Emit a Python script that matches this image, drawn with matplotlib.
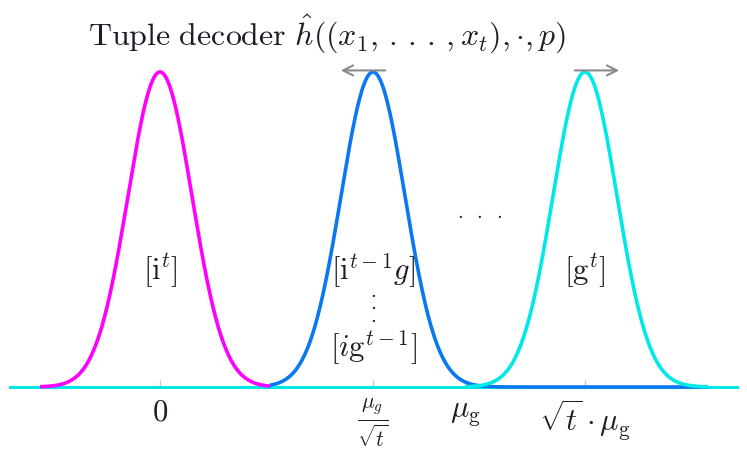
import numpy as np
import matplotlib
matplotlib.use("Agg")
import matplotlib.pyplot as plt

plt.rcParams['mathtext.fontset'] = 'cm'
plt.rcParams['font.family'] = ['DejaVu Serif']

# schematic positions (1 unit ~ 100 px)
centers = [0.0, 2.13, 4.25]
sigma = 0.32
colors = ['#ff00ff', '#0a78f0', '#00e8e8']
domains = [(-1.2, 1.1), (1.1, 5.48), (3.05, 5.48)]
curve_labels = [r'$[\mathrm{i}^t]$', r'$[\mathrm{i}^{t-1}g]$', r'$[\mathrm{g}^t]$']
tick_pos = [0.0, 2.13, 3.05, 4.25]
tick_labels = [r'$0$', r'$\frac{\mu_g}{\sqrt{t}}$', r'$\mu_\mathrm{g}$',
               r'$\sqrt{t}\cdot\mu_\mathrm{g}$']
txt = '#1c1c28'

fig = plt.figure(figsize=(7.47, 4.54), dpi=100)
ax = fig.add_axes([0, 0, 1, 1])
ax.set_xlim(-1.60, 5.87)
ax.set_ylim(-0.2127, 1.2286)

for c, col, (a, b) in zip(centers, colors, domains):
    x = np.linspace(a, b, 600)
    y = np.exp(-(x - c) ** 2 / (2 * sigma ** 2))
    ax.plot(x, y, color=col, lw=2.6, solid_capstyle='butt', zorder=3)

# baseline axis
ax.plot([-1.50, 5.77], [0, 0], color='#00e8e8', lw=2.2, zorder=2)
for spine in ax.spines.values():
    spine.set_visible(False)
ax.spines['bottom'].set_position(('data', 0))
ax.set_yticks([])
ax.set_xticks(tick_pos)
ax.set_xticklabels(tick_labels)
ax.tick_params(axis='x', direction='in', length=5, color='#c8c8c8', width=1,
               pad=7, labelsize=22, labelcolor=txt)
ax.get_xticklabels()[1].set_fontsize(22)

# curve labels
for c, lab in zip(centers, curve_labels):
    ax.text(c, 0.37, lab, fontsize=22, color=txt, ha='center', va='center', zorder=5)
ax.text(centers[1], 0.262, '.\n.\n.', fontsize=13, color=txt, ha='center',
        va='center', linespacing=0.6)
ax.text(centers[1], 0.125, r'$[i\mathrm{g}^{t-1}]$', fontsize=22, color=txt,
        ha='center', va='center')
ax.text(3.20, 0.555, r'$.\;\;.\;\;.$', fontsize=15, color=txt, ha='center', va='center')

# arrows above peaks
ax.annotate('', xy=(1.78, 1.005), xytext=(2.28, 1.005),
            arrowprops=dict(arrowstyle='->', color='#8a8a8a', lw=1.5, mutation_scale=18))
ax.annotate('', xy=(4.62, 1.005), xytext=(4.12, 1.005),
            arrowprops=dict(arrowstyle='->', color='#8a8a8a', lw=1.5, mutation_scale=18))

ax.text(1.67, 1.12,
        r'$\mathrm{Tuple\ decoder}\ \hat{h}((x_1,\,.\,.\,.\,,x_t),{\cdot},p)$',
        fontsize=23, color=txt, ha='center', va='center')

fig.savefig('out.png', dpi=100, facecolor='white')
